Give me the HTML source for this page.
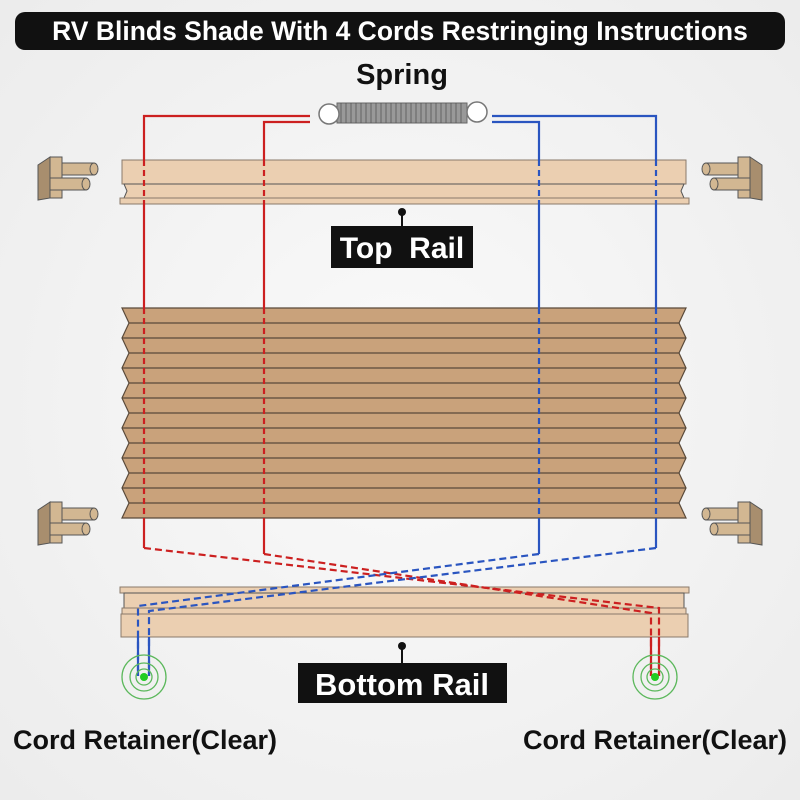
<!DOCTYPE html>
<html><head><meta charset="utf-8"><style>
html,body{margin:0;padding:0;background:#f3f3f3;}
svg{display:block;font-family:"Liberation Sans",Arial,sans-serif;}
</style></head><body>
<svg width="800" height="800" viewBox="0 0 800 800" xmlns="http://www.w3.org/2000/svg">
<defs>
<radialGradient id="bg" cx="50%" cy="50%" r="70%"><stop offset="0" stop-color="#fafafa"/><stop offset="1" stop-color="#ececec"/></radialGradient>
<g id="brk">
<polygon points="38,165 50,157 50,198 38,200" fill="#a88e6e" stroke="#555" stroke-width="1"/>
<rect x="50" y="157" width="12" height="41" fill="#d2b792" stroke="#555" stroke-width="1"/>
<rect x="62" y="163" width="32" height="12" fill="#d2b792" stroke="#555" stroke-width="1"/>
<ellipse cx="94" cy="169" rx="4" ry="6" fill="#d2b792" stroke="#555"/>
<rect x="50" y="178" width="36" height="12" fill="#d2b792" stroke="#555" stroke-width="1"/>
<ellipse cx="86" cy="184" rx="4" ry="6" fill="#d2b792" stroke="#555"/>
</g>
</defs>
<rect width="800" height="800" fill="url(#bg)"/>
<rect x="15" y="12" width="770" height="38" rx="10" fill="#111"/>
<text x="400" y="40" text-anchor="middle" fill="#fff" font-size="26.5" font-weight="bold">RV Blinds Shade With 4 Cords Restringing Instructions</text>
<text x="402" y="84" text-anchor="middle" fill="#111" font-size="29" font-weight="bold">Spring</text>

<use href="#brk"/>
<use href="#brk" transform="translate(0,345)"/>
<use href="#brk" transform="translate(800,0) scale(-1,1)"/>
<use href="#brk" transform="translate(800,345) scale(-1,1)"/>

<!-- top rail -->
<rect x="122" y="160" width="564" height="24" fill="#ebcfb1" stroke="#8a7a6a"/>
<polygon points="124,184 684,184 681,191 684,198 124,198 127,191" fill="#ebcfb1" stroke="#555"/>
<rect x="120" y="198" width="569" height="6" fill="#ebcfb1" stroke="#8a7a6a"/>
<line x1="402" y1="212" x2="402" y2="226" stroke="#111" stroke-width="2"/>
<circle cx="402" cy="212" r="4" fill="#111"/>
<rect x="331" y="226" width="142" height="42" fill="#111"/>
<text x="402" y="258" text-anchor="middle" fill="#fff" font-size="30" font-weight="bold" xml:space="preserve">Top  Rail</text>

<!-- shade -->
<g fill="#c9a27b" stroke="#5a4a3a" stroke-width="1.2">
<polygon points="122,308 686,308 679,323 686,338 679,353 686,368 679,383 686,398 679,413 686,428 679,443 686,458 679,473 686,488 679,503 686,518 122,518 129,503 122,488 129,473 122,458 129,443 122,428 129,413 122,398 129,383 122,368 129,353 122,338 129,323"/>
</g>
<g stroke="#5a4a3a" stroke-width="1.2">
<line x1="129" y1="323" x2="679" y2="323"/><line x1="122" y1="338" x2="686" y2="338"/>
<line x1="129" y1="353" x2="679" y2="353"/><line x1="122" y1="368" x2="686" y2="368"/>
<line x1="129" y1="383" x2="679" y2="383"/><line x1="122" y1="398" x2="686" y2="398"/>
<line x1="129" y1="413" x2="679" y2="413"/><line x1="122" y1="428" x2="686" y2="428"/>
<line x1="129" y1="443" x2="679" y2="443"/><line x1="122" y1="458" x2="686" y2="458"/>
<line x1="129" y1="473" x2="679" y2="473"/><line x1="122" y1="488" x2="686" y2="488"/>
<line x1="129" y1="503" x2="679" y2="503"/>
</g>

<!-- bottom rail -->
<rect x="120" y="587" width="569" height="6" fill="#ebcfb1" stroke="#8a7a6a"/>
<rect x="124" y="593" width="560" height="15" fill="#ebcfb1" stroke="#555"/>
<rect x="122" y="608" width="564" height="6" fill="#ebcfb1" stroke="#8a7a6a"/>
<rect x="121" y="614" width="567" height="23" fill="#ebcfb1" stroke="#8a7a6a"/>

<!-- spring -->
<rect x="337" y="103" width="130" height="20" fill="#999" stroke="#666"/>
<g stroke="#555" stroke-width="0.8">
<line x1="341" y1="103" x2="341" y2="123"/><line x1="346" y1="103" x2="346" y2="123"/><line x1="351" y1="103" x2="351" y2="123"/><line x1="356" y1="103" x2="356" y2="123"/><line x1="361" y1="103" x2="361" y2="123"/><line x1="366" y1="103" x2="366" y2="123"/><line x1="371" y1="103" x2="371" y2="123"/><line x1="376" y1="103" x2="376" y2="123"/><line x1="381" y1="103" x2="381" y2="123"/><line x1="386" y1="103" x2="386" y2="123"/><line x1="391" y1="103" x2="391" y2="123"/><line x1="396" y1="103" x2="396" y2="123"/><line x1="401" y1="103" x2="401" y2="123"/><line x1="406" y1="103" x2="406" y2="123"/><line x1="411" y1="103" x2="411" y2="123"/><line x1="416" y1="103" x2="416" y2="123"/><line x1="421" y1="103" x2="421" y2="123"/><line x1="426" y1="103" x2="426" y2="123"/><line x1="431" y1="103" x2="431" y2="123"/><line x1="436" y1="103" x2="436" y2="123"/><line x1="441" y1="103" x2="441" y2="123"/><line x1="446" y1="103" x2="446" y2="123"/><line x1="451" y1="103" x2="451" y2="123"/><line x1="456" y1="103" x2="456" y2="123"/><line x1="461" y1="103" x2="461" y2="123"/>
</g>
<circle cx="329" cy="114" r="10" fill="#fff" stroke="#777" stroke-width="1.5"/>
<circle cx="477" cy="112" r="10" fill="#fff" stroke="#777" stroke-width="1.5"/>

<!-- cords -->
<g fill="none" stroke-width="2.2">
<g stroke="#cc2020">
<polyline points="310,116 144,116 144,160"/>
<polyline points="310,122 264,122 264,160"/>
<line x1="144" y1="160" x2="144" y2="205" stroke-dasharray="6,4"/>
<line x1="264" y1="160" x2="264" y2="205" stroke-dasharray="6,4"/>
<line x1="144" y1="205" x2="144" y2="308"/>
<line x1="264" y1="205" x2="264" y2="308"/>
<line x1="144" y1="308" x2="144" y2="518" stroke-dasharray="6,4"/>
<line x1="264" y1="308" x2="264" y2="518" stroke-dasharray="6,4"/>
<polyline points="144,518 144,548"/>
<polyline points="264,518 264,554"/>
<polyline points="144,548 659,608 659,676" stroke-dasharray="7,4"/>
<polyline points="264,554 651,613 651,676" stroke-dasharray="7,4"/>
<line x1="659" y1="637" x2="659" y2="676"/>
<line x1="651" y1="637" x2="651" y2="676"/>
</g>
<g stroke="#2a55c0">
<polyline points="492,116 656,116 656,160"/>
<polyline points="492,122 539,122 539,160"/>
<line x1="656" y1="160" x2="656" y2="205" stroke-dasharray="6,4"/>
<line x1="539" y1="160" x2="539" y2="205" stroke-dasharray="6,4"/>
<line x1="656" y1="205" x2="656" y2="308"/>
<line x1="539" y1="205" x2="539" y2="308"/>
<line x1="656" y1="308" x2="656" y2="518" stroke-dasharray="6,4"/>
<line x1="539" y1="308" x2="539" y2="518" stroke-dasharray="6,4"/>
<polyline points="656,518 656,548"/>
<polyline points="539,518 539,554"/>
<polyline points="656,548 149,611 149,676" stroke-dasharray="7,4"/>
<polyline points="539,554 138,606 138,676" stroke-dasharray="7,4"/>
<line x1="149" y1="637" x2="149" y2="676"/>
<line x1="138" y1="637" x2="138" y2="676"/>
</g>
</g>

<!-- retainers -->
<g fill="none" stroke="#5cb85c" stroke-width="1.3">
<circle cx="144" cy="677" r="22"/><circle cx="144" cy="677" r="14"/><circle cx="144" cy="677" r="8"/>
<circle cx="655" cy="677" r="22"/><circle cx="655" cy="677" r="14"/><circle cx="655" cy="677" r="8"/>
</g>
<circle cx="144" cy="677" r="4" fill="#22cc22"/>
<circle cx="655" cy="677" r="4" fill="#22cc22"/>

<line x1="402" y1="646" x2="402" y2="663" stroke="#111" stroke-width="2"/>
<circle cx="402" cy="646" r="4" fill="#111"/>
<rect x="298" y="663" width="209" height="40" fill="#111"/>
<text x="402" y="695" text-anchor="middle" fill="#fff" font-size="31" font-weight="bold">Bottom Rail</text>

<text x="145" y="749" text-anchor="middle" fill="#111" font-size="27" font-weight="bold">Cord Retainer(Clear)</text>
<text x="655" y="749" text-anchor="middle" fill="#111" font-size="27" font-weight="bold">Cord Retainer(Clear)</text>
</svg>
</body></html>
